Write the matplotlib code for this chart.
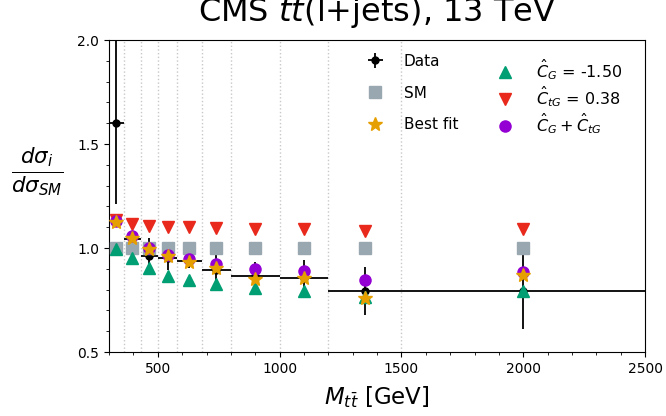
import matplotlib
matplotlib.use("Agg")
import matplotlib.pyplot as plt
from matplotlib.ticker import MultipleLocator
import numpy as np

# bin edges and measured / predicted ratios
edges = [300, 360, 430, 500, 580, 680, 800, 1000, 1200, 1500, 2500]
centers = [330, 395, 465, 540, 630, 740, 900, 1100, 1350, 2000]
data = [1.603, 1.043, 0.960, 0.952, 0.936, 0.893, 0.864, 0.854, 0.792, 0.792]
data_err = [0.39, 0.03, 0.09, 0.06, 0.03, 0.08, 0.07, 0.09, 0.116, 0.18]
sm = [1.0] * 10
c_g = [0.995, 0.950, 0.905, 0.867, 0.848, 0.828, 0.808, 0.795, 0.765, 0.795]
c_tg = [1.135, 1.117, 1.106, 1.101, 1.100, 1.097, 1.093, 1.093, 1.082, 1.092]
combined = [1.128, 1.059, 1.000, 0.968, 0.947, 0.923, 0.900, 0.888, 0.845, 0.885]
best_fit = [1.123, 1.048, 0.995, 0.960, 0.933, 0.904, 0.851, 0.856, 0.760, 0.872]

x_halfwidth = [(edges[i + 1] - edges[i]) / 2 for i in range(len(centers))]

fig = plt.figure(figsize=(6.66, 4.16), dpi=100)
ax = fig.add_axes([0.1637, 0.1538, 0.805, 0.75])

for e in edges[1:-1]:
    ax.axvline(e, color="#c8c8c8", linestyle=":", linewidth=1, zorder=0)

h_data = ax.errorbar(centers, data, xerr=x_halfwidth, yerr=data_err, fmt="o",
                     color="black", ms=5, lw=1.3, zorder=2)
h_sm, = ax.plot(centers, sm, "s", color="#99a8b0", ms=8, zorder=3)
h_cg, = ax.plot(centers, c_g, "^", color="#009e73", ms=8, zorder=4)
h_ctg, = ax.plot(centers, c_tg, "v", color="#e8291c", ms=8, zorder=5)
h_comb, = ax.plot(centers, combined, "o", color="#9400d3", ms=8, zorder=6)
h_best, = ax.plot(centers, best_fit, "*", color="#e69f00", ms=10, zorder=7)

ax.set_xlim(300, 2500)
ax.set_ylim(0.5, 2.0)
ax.xaxis.set_major_locator(MultipleLocator(500))
ax.xaxis.set_minor_locator(MultipleLocator(100))
ax.yaxis.set_major_locator(MultipleLocator(0.5))
ax.yaxis.set_minor_locator(MultipleLocator(0.1))
ax.tick_params(labelsize=10)

ax.set_title(r"CMS $tt$(l+jets), 13 TeV", fontsize=23, pad=14)
ax.set_xlabel(r"$M_{t\bar{t}}$ [GeV]", fontsize=16.5, labelpad=6)
ax.set_ylabel(r"$\frac{d\sigma_i}{d\sigma_{SM}}$", fontsize=22, rotation=0,
              va="center", ha="center")
ax.yaxis.set_label_coords(-0.134, 0.577)

leg1 = ax.legend([h_data, h_sm, h_best], ["Data", "SM", "Best fit"], loc="upper left",
                 bbox_to_anchor=(0.45, 1.0), frameon=False, fontsize=11,
                 labelspacing=1.1, handlelength=1.5, handletextpad=1.1)
ax.add_artist(leg1)
ax.legend([h_cg, h_ctg, h_comb],
          [r"$\hat{C}_G$ = -1.50", r"$\hat{C}_{tG}$ = 0.38", r"$\hat{C}_G + \hat{C}_{tG}$"],
          loc="upper left", bbox_to_anchor=(0.69, 0.99), frameon=False, fontsize=11.5,
          labelspacing=0.15, handlelength=1.5, handletextpad=1.15)

fig.savefig("out.png", dpi=100)
